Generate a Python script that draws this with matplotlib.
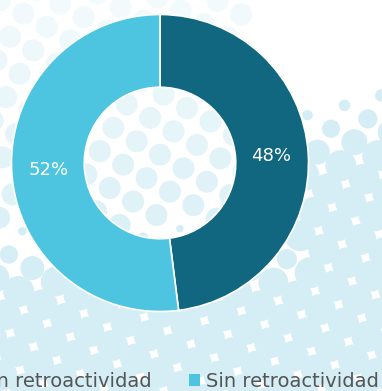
import numpy as np
import matplotlib.pyplot as plt
from matplotlib.patches import Circle, Patch
from matplotlib.colors import to_rgb

plt.rcParams['font.family'] = ['DejaVu Sans']

labels = ['Con retroactividad', 'Sin retroactividad']
values = [48, 52]
colors = ['#10677f', '#4dc5e0']

W, H = 382, 391
fig = plt.figure(figsize=(W / 100, H / 100), dpi=100)
fig.patch.set_facecolor('white')

# decorative dot pattern behind the chart (pixel coordinates)
bg = fig.add_axes([0, 0, 1, 1])
bg.set_xlim(0, W)
bg.set_ylim(H, 0)
bg.axis('off')

strong = np.array(to_rgb('#d5eef5'))
pale = np.array(to_rgb('#f3fafc'))
step = 27
ang = np.deg2rad(30)
ux = np.array([np.cos(ang), np.sin(ang)]) * step
uy = np.array([-np.sin(ang), np.cos(ang)]) * step
for i in range(-20, 30):
    for j in range(-20, 30):
        px, py = i * ux + j * uy
        if px < -20 or px > W + 20 or py < -20 or py > H + 20:
            continue
        w_right = (py - 95) / 70 + (px - 330) / 200 if px > 300 else -1
        w_bottom = (py - 225) / 60
        w = min(max(w_right, w_bottom), 1.0)
        if w > 0.05:
            bg.add_patch(Circle((px, py), 3 + 12.5 * w, color=strong, lw=0))
        elif px < 250 and py < 250:
            t = np.clip(py / 230, 0, 1) * 0.8
            bg.add_patch(Circle((px, py), 11,
                                color=pale * (1 - t) + strong * t, lw=0))

# donut
ax = fig.add_axes([10 / W, 78 / H, 300 / W, 300 / H])
wedges, texts, autotexts = ax.pie(
    values, colors=colors, startangle=90, counterclock=False,
    wedgeprops=dict(width=0.49, edgecolor='white', linewidth=1.2),
    autopct='%.0f%%', pctdistance=0.75,
    textprops=dict(color='white', fontsize=13))
ax.set_xlim(-1.01, 1.01)
ax.set_ylim(-1.01, 1.01)
ax.set_aspect('equal')

handles = [Patch(facecolor=c, edgecolor='none') for c in colors]
fig.legend(handles, labels, ncol=2, loc='lower right',
           bbox_to_anchor=(379 / W, 0.0), frameon=False,
           borderpad=0, borderaxespad=0,
           fontsize=14, labelcolor='#555555',
           handlelength=0.6, handleheight=0.6, handletextpad=0.3,
           columnspacing=1.9)

fig.savefig('out.png', dpi=100, facecolor='white')
